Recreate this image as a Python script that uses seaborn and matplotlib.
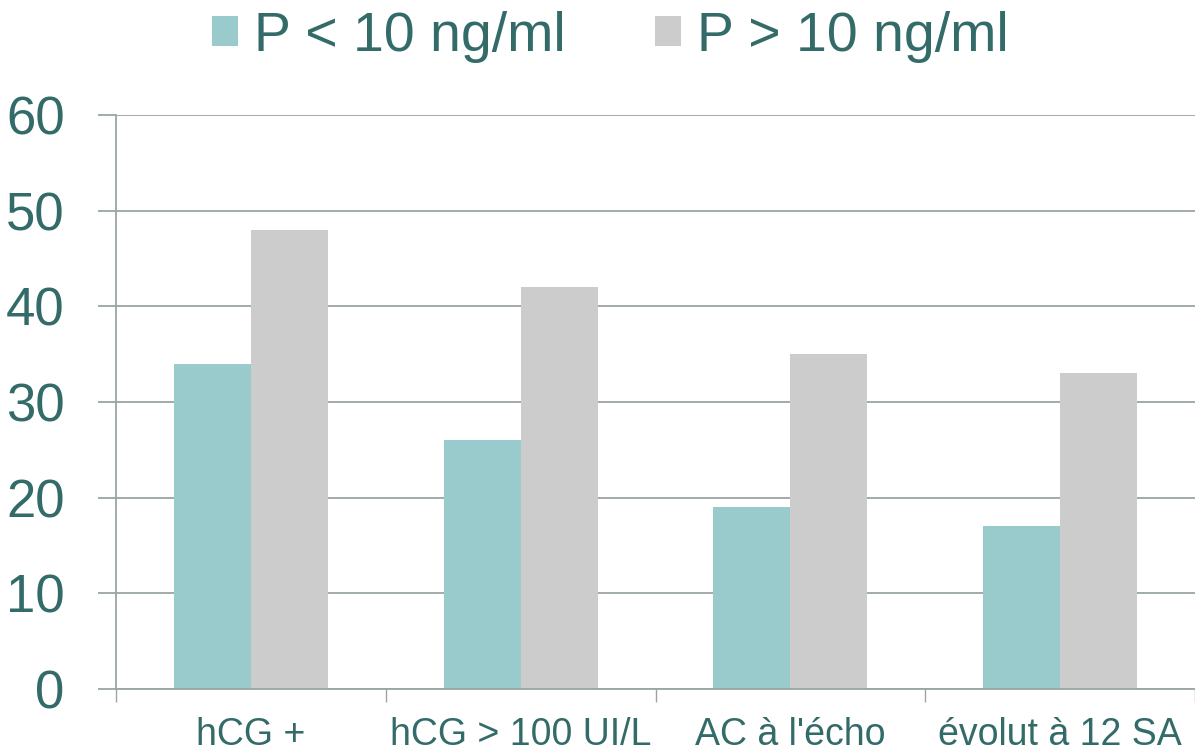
import pandas as pd
import matplotlib.pyplot as plt
import seaborn as sns
from matplotlib.ticker import FixedLocator

# data
categories = ["hCG +", "hCG > 100 UI/L", "AC à l'écho", "évolut à 12 SA"]
series_names = ["P < 10 ng/ml", "P > 10 ng/ml"]
low_p = [34, 26, 19, 17]
high_p = [48, 42, 35, 33]

df = pd.DataFrame({
    "cat": categories * 2,
    "serie": [series_names[0]] * 4 + [series_names[1]] * 4,
    "val": low_p + high_p,
})

sns.set_style("white")
plt.rcParams['font.family'] = ['Liberation Sans', 'DejaVu Sans']

text_col = "#336b69"
grid_col = "#9aa5a5"
colors = ["#9acbcc", "#cccccc"]

fig = plt.figure(figsize=(11.95, 7.54), dpi=100)
ax = fig.add_axes([116 / 1195, 1 - 689 / 754, 1 - 116 / 1195, (689 - 115) / 754])

sns.barplot(data=df, x="cat", y="val", hue="serie", palette=colors,
            width=0.57, saturation=1, linewidth=0, edgecolor="none", ax=ax, legend=True)

ax.set_ylim(0, 60)
ax.set_xlim(-0.5, 3.5)
ax.set_yticks(range(0, 61, 10))
ax.yaxis.grid(True, color=grid_col, linewidth=1.3)
ax.set_axisbelow(True)
ax.set_xlabel("")
ax.set_ylabel("")

for s in ["top", "right"]:
    ax.spines[s].set_visible(False)
ax.spines["left"].set_color(grid_col)
ax.spines["left"].set_linewidth(1.3)
ax.spines["bottom"].set_color(grid_col)
ax.spines["bottom"].set_linewidth(1.3)

ax.tick_params(axis="y", left=True, length=13, width=1.3, color=grid_col, pad=24,
               labelsize=38, labelcolor=text_col)
ax.tick_params(axis="x", which="major", bottom=True, length=0, pad=20,
               labelsize=27, labelcolor=text_col)
ax.xaxis.set_minor_locator(FixedLocator([-0.5, 0.5, 1.5, 2.5, 3.5]))
ax.tick_params(axis="x", which="minor", bottom=True, length=9, width=1, color=grid_col)

leg = ax.legend(loc="upper center", bbox_to_anchor=(0.511, 0.993), bbox_transform=fig.transFigure,
                ncol=2, frameon=False, fontsize=40, handlelength=0.46, handleheight=0.46,
                handletextpad=0.3, columnspacing=1.6, borderaxespad=0.0, borderpad=0.1)
for t in leg.get_texts():
    t.set_color(text_col)

fig.savefig("out.png", dpi=100)
